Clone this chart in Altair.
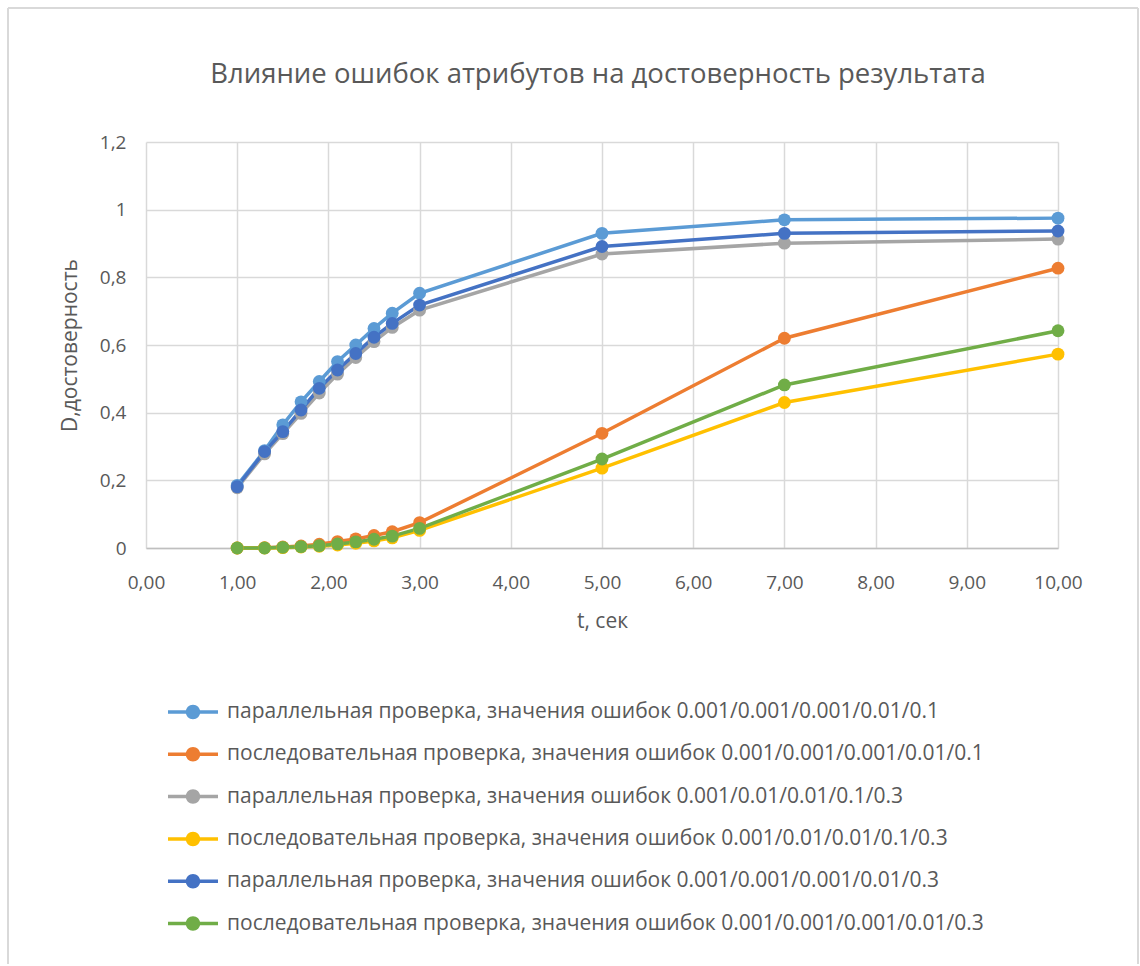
import altair as alt
import pandas as pd

# Time points (seconds) shared by every series
t_values = [1.0, 1.3, 1.5, 1.7, 1.9, 2.1, 2.3, 2.5, 2.7, 3.0, 5.0, 7.0, 10.0]

series_names = [
    "параллельная проверка, значения ошибок 0.001/0.001/0.001/0.01/0.1",
    "последовательная проверка, значения ошибок 0.001/0.001/0.001/0.01/0.1",
    "параллельная проверка, значения ошибок 0.001/0.01/0.01/0.1/0.3",
    "последовательная проверка, значения ошибок 0.001/0.01/0.01/0.1/0.3",
    "параллельная проверка, значения ошибок 0.001/0.001/0.001/0.01/0.3",
    "последовательная проверка, значения ошибок 0.001/0.001/0.001/0.01/0.3",
]
series_colors = ["#5B9BD5", "#ED7D31", "#A5A5A5", "#FFC000", "#4472C4", "#70AD47"]

chart_title = "Влияние ошибок атрибутов на достоверность результата"

# Reliability D for each series
par_a = [0.185, 0.288, 0.364, 0.432, 0.492, 0.551, 0.600, 0.649, 0.694, 0.753, 0.930, 0.970, 0.975]
seq_a = [0.000, 0.001, 0.003, 0.006, 0.011, 0.019, 0.027, 0.037, 0.048, 0.075, 0.339, 0.620, 0.827]
par_b = [0.178, 0.278, 0.338, 0.398, 0.458, 0.514, 0.563, 0.610, 0.652, 0.703, 0.869, 0.901, 0.913]
seq_b = [0.000, 0.000, 0.001, 0.003, 0.005, 0.009, 0.014, 0.021, 0.030, 0.052, 0.236, 0.430, 0.573]
par_c = [0.181, 0.285, 0.344, 0.408, 0.472, 0.526, 0.575, 0.623, 0.664, 0.718, 0.891, 0.930, 0.937]
seq_c = [0.000, 0.000, 0.002, 0.004, 0.007, 0.012, 0.018, 0.026, 0.035, 0.058, 0.263, 0.482, 0.642]

all_series = [par_a, seq_a, par_b, seq_b, par_c, seq_c]

rows = []
for idx, (name, vals) in enumerate(zip(series_names, all_series)):
    for t, d in zip(t_values, vals):
        rows.append({"t": t, "D": d, "series": name, "k": idx})
df = pd.DataFrame(rows)

FONT = "Open Sans"
TEXT = "#595959"
GRID = "#D9D9D9"

color_scale = alt.Scale(domain=series_names, range=series_colors)
x_enc = alt.X(
    "t:Q",
    title="t, сек",
    scale=alt.Scale(domain=[0, 10], nice=False, zero=False),
    axis=alt.Axis(
        values=list(range(11)),
        labelExpr="replace(format(datum.value, '.2f'), '.', ',')",
        labelFlush=False,
        labelPadding=25,
        titlePadding=18,
        domain=True,
        domainColor="#BFBFBF",
        domainWidth=1.5,
    ),
)
y_enc = alt.Y(
    "D:Q",
    title="D,достоверность",
    scale=alt.Scale(domain=[0, 1.2], nice=False),
    axis=alt.Axis(
        values=[0, 0.2, 0.4, 0.6, 0.8, 1, 1.2],
        labelExpr="replace(format(datum.value, '~g'), '.', ',')",
        labelFlush=False,
        labelPadding=20,
        titlePadding=19,
        domain=False,
    ),
)

# Legend symbol: short line with a dot in the middle
legend_symbol = (
    "M-1,-0.07H1V0.07H-1Z "
    "M0.29,0A0.29,0.29,0,1,1,-0.29,0A0.29,0.29,0,1,1,0.29,0Z"
)

lines = alt.Chart(df).mark_line(strokeWidth=3.5).encode(
    x=x_enc,
    y=y_enc,
    color=alt.Color("series:N", scale=color_scale, legend=None),
    order=alt.Order("t:Q"),
)

points = alt.Chart(df).mark_circle(size=165, opacity=1).encode(
    x=x_enc,
    y=y_enc,
    color=alt.Color(
        "series:N",
        scale=color_scale,
        legend=alt.Legend(
            title=None,
            orient="none",
            legendX=22,
            legendY=545,
            direction="vertical",
            symbolType=legend_symbol,
            symbolSize=2500,
            symbolStrokeWidth=0,
            symbolOpacity=1,
            labelFont=FONT,
            labelFontSize=21,
            labelColor=TEXT,
            labelLimit=1000,
            labelOffset=9,
            rowPadding=7.3,
            padding=0,
        ),
    ),
    order=alt.Order("k:Q"),
)

one = pd.DataFrame({"label": [chart_title]})

# Chart heading, centred above the plot
heading = alt.Chart(one).mark_text(
    font=FONT, fontSize=27.5, color=TEXT, align="center", baseline="middle"
).encode(x=alt.value(452), y=alt.value(-67), text="label:N")

# Outer chart frame
frame_style = dict(color=GRID, strokeWidth=2)
frame_left = alt.Chart(one).mark_rule(**frame_style).encode(
    x=alt.value(-138), y=alt.value(-134), y2=alt.value(822)
)
frame_top = alt.Chart(one).mark_rule(**frame_style).encode(
    x=alt.value(-138), x2=alt.value(992), y=alt.value(-134)
)
frame_right = alt.Chart(one).mark_rule(**frame_style).encode(
    x=alt.value(992), y=alt.value(-134), y2=alt.value(822)
)

chart = (
    alt.layer(frame_left, frame_top, frame_right, heading, lines, points)
    .resolve_legend(color="independent")
    .properties(
        width=912,
        height=406,
        padding={"left": 7, "top": 7, "right": 0, "bottom": 0},
    )
    .configure_view(strokeWidth=0)
    .configure_axis(
        grid=True,
        gridColor=GRID,
        gridWidth=1.5,
        ticks=False,
        labelFont=FONT,
        labelFontSize=19,
        labelColor=TEXT,
        titleFont=FONT,
        titleFontSize=21,
        titleFontWeight="normal",
        titleColor=TEXT,
    )
)

chart.save("out.html", embed_options={"renderer": "svg", "actions": False})
